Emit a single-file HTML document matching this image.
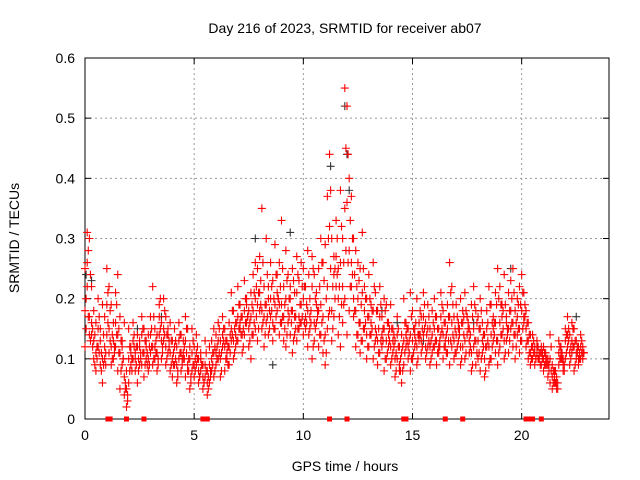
<!DOCTYPE html>
<html><head><meta charset="utf-8"><style>
html,body{margin:0;padding:0;background:#fff}
svg{display:block;font-family:"Liberation Sans",sans-serif}
</style></head><body>
<svg id="chart" width="640" height="480" viewBox="0 0 640 480" xmlns="http://www.w3.org/2000/svg">
<rect width="640" height="480" fill="#fff"/>
<text x="345" y="33" font-size="14" text-anchor="middle">Day 216 of 2023, SRMTID for receiver ab07</text>
<text transform="translate(19,238) rotate(-90)" font-size="14" text-anchor="middle">SRMTID / TECUs</text>
<text x="345" y="471" font-size="14" text-anchor="middle">GPS time / hours</text>
<g id="grid"></g><g id="axes"></g><g id="marks"></g>
</svg>
<script>
const xTicks=[0,5,10,15,20];
const yTicks=[0,0.1,0.2,0.3,0.4,0.5,0.6];
const yTickLabels=["0","0.1","0.2","0.3","0.4","0.5","0.6"];
const step=0.1;
const seriesA=[25,31,30,22,18,16,20,15,19,17,25,22,19,16,21,24,17,13,16,8,15,12,16,11,14,13,17,15,12,14,17,22,15,14,19,16,20,17,15,16,13,15,12,16,14,13,17,15,12,15,12,14,10,11,9,13,8,12,13,15,14,16,13,17,15,13,16,21,18,16,22,19,17,23,20,18,21,24,26,25,27,35,22,30,20,26,23,29,21,26,33,22,28,24,20,25,21,27,23,26,25,22,28,20,27,24,19,25,30,26,29,37,44,30,27,33,25,38,30,55,52,40,37,30,28,26,25,31,22,20,24,19,26,21,18,22,17,20,19,16,19,15,13,17,12,14,20,16,15,21,18,15,20,14,17,21,16,19,15,18,20,17,15,21,18,16,19,26,22,17,19,16,20,18,21,17,15,19,22,18,17,20,16,14,18,22,19,17,21,25,22,19,24,17,21,23,25,18,20,22,24,21,18,16,14,14,12,13,11,12,12,11,10,14,9,8,7,13,12,10,15,17,14,16,15,13,12,14,11];
const seriesB=[12,22,17,14,10,8,12,9,6,10,14,11,9,10,12,8,5,9,4,2,6,9,10,8,6,12,9,7,10,8,11,9,12,8,14,10,13,9,11,8,7,9,6,10,8,11,7,9,5,8,7,9,6,8,5,7,4,6,8,7,9,10,7,12,8,11,9,13,10,12,13,15,11,14,16,12,10,14,15,13,18,15,12,16,14,17,13,15,18,14,16,13,12,18,14,11,17,13,15,16,14,17,12,15,10,13,16,12,14,11,9,15,18,13,17,22,14,12,16,20,14,18,22,17,12,14,11,13,15,10,12,14,10,13,9,11,14,8,10,12,9,11,7,10,8,6,9,12,10,8,10,12,9,13,11,14,10,12,9,11,12,9,11,14,10,13,11,9,12,10,11,13,9,12,10,14,11,8,12,9,10,8,11,7,12,9,10,13,11,9,12,14,10,13,11,15,12,10,14,11,13,16,12,10,9,10,9,11,10,9,8,9,7,6,5,6,5,9,10,8,10,12,9,11,8,10,9,10,12];
const seriesC=[18,26,14,16,13,11,15,13,10,12,19,15,12,13,16,14,11,12,7,5,10,11,13,10,12,9,14,11,13,10,14,12,10,11,17,13,15,12,14,11,10,12,9,13,11,10,13,8,10,11,9,11,8,10,7,9,6,9,10,11,11,13,10,14,12,10,12,15,13,14,17,16,14,18,19,15,17,18,20,19,21,18,17,19,22,20,16,19,24,19,19,17,20,16,22,18,14,21,17,19,20,15,18,17,22,16,21,18,19,17,14,22,32,18,24,27,20,26,22,35,36,28,26,20,18,20,16,21,18,14,17,16,18,15,13,17,12,15,13,14,12,13,10,14,9,11,13,14,12,14,13,14,12,16,13,17,12,15,12,14,15,13,12,17,14,12,15,17,16,13,14,15,12,16,13,17,13,11,15,13,13,15,13,10,15,12,14,15,16,13,16,17,13,16,15,18,16,14,17,15,18,17,15,13,11,12,11,12,10,11,10,10,9,10,7,7,6,11,11,9,13,14,11,13,12,11,10,12,10];
const seriesD=[20,28,24,15,14,12,17,11,14,9,21,18,14,12,19,15,13,10,6,4,12,8,14,12,10,11,15,13,9,12,15,17,13,10,20,12,18,14,12,13,11,13,8,14,10,12,15,10,7,13,10,12,7,9,6,11,7,8,11,12,12,15,11,15,13,12,14,18,15,16,19,17,15,20,17,16,19,21,22,21,23,26,19,24,18,22,20,24,20,22,25,19,23,20,18,23,17,24,19,22,22,19,24,18,25,20,17,22,26,23,20,30,38,22,25,30,22,32,26,45,44,33,30,24,22,23,19,25,20,17,20,18,22,18,15,19,15,18,16,15,15,14,11,15,10,12,16,15,13,17,15,16,14,18,15,19,14,17,13,16,17,15,13,19,16,14,17,21,19,15,17,15,16,17,18,16,14,17,19,16,15,18,14,12,16,19,16,16,19,20,19,18,19,15,18,20,21,16,19,19,21,19,16,14,12,13,10,12,11,11,11,10,9,12,8,8,6,12,11,9,14,15,12,15,13,12,11,13,11];
const seriesE=[15,17,13,12,9,10,11,8,9,11,16,13,10,11,14,11,8,10,5,3,8,10,12,9,8,10,11,9,11,9,12,10,11,9,15,11,14,10,13,9,9,10,7,11,9,10,11,8,6,9,8,10,7,9,6,8,5,7,9,8,10,11,8,13,10,9,11,14,11,13,15,14,12,16,17,13,14,16,17,15,19,16,14,17,15,18,15,17,20,16,17,15,14,17,16,13,15,15,16,17,16,16,14,16,12,15,18,14,16,13,11,17,25,15,20,24,17,19,19,28,26,22,24,18,14,16,13,15,16,12,14,15,12,14,11,13,13,10,11,13,10,12,8,12,8,8,11,13,11,10,11,13,10,14,12,15,11,13,10,12,13,11,12,15,12,11,13,13,14,11,12,14,10,14,11,15,12,9,13,11,11,10,12,8,13,10,12,14,13,11,14,15,11,14,13,16,14,12,15,13,15,17,13,11,10,11,10,10,9,10,9,9,8,8,6,6,5,10,10,8,11,13,10,12,9,11,10,11,11];
const blackTimes=[0.05,0.3,2.4,3.5,7.8,8.6,9.4,11.25,11.9,12.0,12.1,13.6,14.3,15.5,17.8,19.5,21.0,22.5];
const blackValues=[0.24,0.23,0.15,0.17,0.3,0.09,0.31,0.42,0.52,0.44,0.38,0.18,0.16,0.13,0.16,0.25,0.12,0.17];
const zeroTimes=[1.05,1.15,1.9,2.7,5.4,5.6,11.2,12.0,14.6,14.7,16.5,17.3,20.2,20.35,20.5,20.9];
const L=85,R=609,T=58,B=419,XMAX=24,YMAX=0.6;
const xs=v=>L+(R-L)*v/XMAX, ys=v=>B-(B-T)*v/YMAX;
const NS="http://www.w3.org/2000/svg";
function mk(tag,attrs,parent){const e=document.createElementNS(NS,tag);for(const k in attrs)e.setAttribute(k,attrs[k]);parent.appendChild(e);return e;}
const grid=document.getElementById('grid'),axes=document.getElementById('axes'),marks=document.getElementById('marks');
xTicks.forEach(t=>{const x=xs(t);
 if(t>0){const g=mk('line',{x1:x,x2:x,y1:T,y2:B,stroke:'#999','stroke-dasharray':'2,3'},grid);}
 mk('line',{x1:x,x2:x,y1:B,y2:B-6,stroke:'#000'},axes);mk('line',{x1:x,x2:x,y1:T,y2:T+6,stroke:'#000'},axes);
 const tx=mk('text',{x:x,y:B+21,'font-size':14,'text-anchor':'middle'},axes);tx.textContent=t;
 });
yTicks.forEach((t,i)=>{const y=ys(t);
 if(t>0&&t<YMAX){const g=mk('line',{x1:L,x2:R,y1:y,y2:y,stroke:'#999','stroke-dasharray':'2,3'},grid);}
 mk('line',{x1:L,x2:L+6,y1:y,y2:y,stroke:'#000'},axes);mk('line',{x1:R,x2:R-6,y1:y,y2:y,stroke:'#000'},axes);
 const tx=mk('text',{x:L-10,y:y+5,'font-size':14,'text-anchor':'end'},axes);tx.textContent=yTickLabels[i];
 });
const frame=mk('rect',{x:L,y:T,width:R-L,height:B-T,fill:'none',stroke:'#000'},axes);


function plus(x,y,color){return mk('path',{d:`M${x-4},${y}h8M${x},${y-4}v8`,stroke:color,'stroke-width':1.1,fill:'none'},marks);}
blackTimes.forEach((t,i)=>{const p=plus(xs(t),ys(blackValues[i]),'#333');
 });
[[seriesA,0],[seriesB,0],[seriesC,0],[seriesD,0.05],[seriesE,0.05]].forEach(([arr,off])=>arr.forEach((v,i)=>{const p=plus(xs(i*step+off),ys(v/100),'#f00');
 }));
zeroTimes.forEach(t=>{const r=mk('rect',{x:xs(t)-2.5,y:B-2.5,width:5,height:5,fill:'#f00'},marks);
 });
</script>
</body></html>
